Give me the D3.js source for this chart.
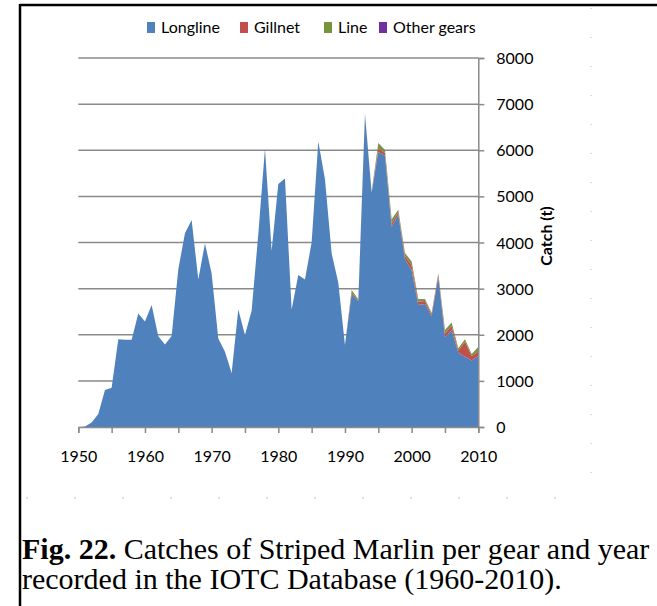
<!DOCTYPE html>
<html>
<head>
<meta charset="utf-8">
<script src="https://cdn.jsdelivr.net/npm/d3@7/dist/d3.min.js"></script>
<style>
  html, body { margin: 0; padding: 0; background: #fff; }
  svg { display: block; }
</style>
</head>
<body>
<svg id="chart" width="657" height="606"></svg>
<script>
// Striped marlin catches (t) by gear, 1950-2010
const years = d3.range(1950, 2011);

const longline = [
  0, 10, 95, 280, 800, 850, 1900, 1890, 1890, 2460,
  2285, 2645, 1965, 1790, 1975, 3420, 4200, 4490, 3200, 3980,
  3330, 1920, 1630, 1170, 2545, 1995, 2520, 4180, 6040, 3820,
  5270, 5390, 2550, 3295, 3200, 4000, 6190, 5370, 3765, 3130,
  1780, 2880, 2730, 6780, 5080, 5960, 5880, 4340, 4600, 3635,
  3400, 2645, 2665, 2405, 3260, 1945, 2100, 1610, 1525, 1440,
  1540
];
const gillnet = [
  0, 0, 0, 0, 0, 0, 0, 0, 0, 0,
  0, 0, 0, 0, 0, 0, 0, 0, 0, 0,
  0, 0, 0, 0, 0, 0, 0, 0, 0, 0,
  0, 0, 0, 0, 0, 0, 0, 0, 0, 0,
  0, 40, 20, 10, 10, 80, 60, 80, 50, 70,
  100, 70, 65, 35, 40, 85, 90, 50, 325, 100,
  95
];
const line = [
  0, 0, 0, 0, 0, 0, 0, 0, 0, 0,
  0, 0, 0, 0, 0, 0, 0, 0, 0, 0,
  0, 0, 0, 0, 0, 0, 0, 0, 0, 0,
  0, 0, 0, 0, 0, 0, 0, 0, 0, 0,
  0, 50, 20, 10, 10, 110, 60, 80, 55, 60,
  85, 55, 40, 25, 30, 70, 70, 45, 50, 40,
  95
];
const otherGears = [
  0, 0, 0, 0, 0, 0, 0, 0, 0, 0,
  0, 0, 0, 0, 0, 0, 0, 0, 0, 0,
  0, 0, 0, 0, 0, 0, 0, 0, 0, 0,
  0, 0, 0, 0, 0, 0, 0, 0, 0, 0,
  0, 0, 0, 0, 0, 5, 5, 5, 5, 5,
  5, 5, 5, 5, 5, 5, 5, 5, 5, 5,
  5
];

const seriesNames = ["Longline", "Gillnet", "Line", "Other gears"];
const seriesColors = ["#4F81BD", "#C0504D", "#77933C", "#7030A0"];
const yTicks = [0, 1000, 2000, 3000, 4000, 5000, 6000, 7000, 8000];
const xMinorTicks = d3.range(1950, 2011, 5);
const xLabels = [1950, 1960, 1970, 1980, 1990, 2000, 2010];
const yTitle = "Catch (t)";
const captionBold = "Fig. 22.";
const captionLine1 = " Catches of Striped Marlin per gear and year";
const captionLine2 = "recorded in the IOTC Database (1960-2010).";

const rows = years.map((yr, i) => ({
  year: yr,
  "Longline": longline[i],
  "Gillnet": gillnet[i],
  "Line": line[i],
  "Other gears": otherGears[i]
}));

const svg = d3.select("#chart");
const font = "Lato, 'Open Sans', sans-serif";

// page frame
svg.append("line").attr("x1", 20).attr("x2", 657).attr("y1", 5).attr("y2", 5)
  .attr("stroke", "#000").attr("stroke-width", 2.5);
svg.append("line").attr("x1", 20).attr("x2", 20).attr("y1", 4).attr("y2", 606)
  .attr("stroke", "#000").attr("stroke-width", 2.5);

// faint dotted guides of the drawing frame
svg.append("line").attr("x1", 591).attr("x2", 591).attr("y1", 8).attr("y2", 498)
  .attr("stroke", "#bbb").attr("stroke-width", 1).attr("stroke-dasharray", "1,28");
svg.append("line").attr("x1", 26).attr("x2", 600).attr("y1", 498).attr("y2", 498)
  .attr("stroke", "#bbb").attr("stroke-width", 1).attr("stroke-dasharray", "2,46");

const x = d3.scaleLinear().domain([1950, 2010]).range([78.3, 478.3]);
const y = d3.scaleLinear().domain([0, 8000]).range([427, 58]);

// horizontal gridlines
svg.append("g").selectAll("line")
  .data(yTicks.filter(d => d > 0))
  .join("line")
  .attr("x1", x(1950)).attr("x2", x(2010))
  .attr("y1", d => y(d)).attr("y2", d => y(d))
  .attr("stroke", "#8a8a8a").attr("stroke-width", 1.5);

// stacked areas
const stack = d3.stack().keys(seriesNames);
const layers = stack(rows);
const area = d3.area()
  .x(d => x(d.data.year))
  .y0(d => y(d[0]))
  .y1(d => y(d[1]));

svg.append("g").selectAll("path")
  .data(layers)
  .join("path")
  .attr("d", area)
  .attr("fill", (d, i) => seriesColors[i]);

// right value axis
const yAxis = d3.axisRight(y).tickValues(yTicks).tickSize(6).tickPadding(12)
  .tickFormat(d3.format("d"));
const gy = svg.append("g").attr("transform", `translate(${x(2010)},0)`).call(yAxis);
gy.select(".domain").attr("stroke", "#8a8a8a").attr("stroke-width", 1.5);
gy.selectAll(".tick line").attr("stroke", "#8a8a8a").attr("stroke-width", 1.5);
gy.selectAll(".tick text")
  .attr("font-family", font).attr("font-size", 16).attr("fill", "#000")
  .attr("dy", "0.35em");

// bottom year axis
const xAxis = d3.axisBottom(x).tickValues(xMinorTicks).tickSize(6)
  .tickFormat(d => xLabels.includes(d) ? String(d) : "").tickPadding(18);
const gx = svg.append("g").attr("transform", `translate(0,${y(0)})`).call(xAxis);
gx.select(".domain").attr("stroke", "#8a8a8a").attr("stroke-width", 1.5);
gx.selectAll(".tick line").attr("stroke", "#8a8a8a").attr("stroke-width", 1.5);
gx.selectAll(".tick text")
  .attr("font-family", font).attr("font-size", 16).attr("fill", "#000");

// axis title
svg.append("text")
  .attr("transform", "translate(552,236) rotate(-90)")
  .attr("text-anchor", "middle")
  .attr("font-family", font).attr("font-size", 16).attr("font-weight", "bold")
  .attr("fill", "#000")
  .text(yTitle);

// legend
const legendX = [147, 240, 324, 379];
const legend = svg.append("g");
seriesNames.forEach((name, i) => {
  legend.append("rect")
    .attr("x", legendX[i]).attr("y", 22).attr("width", 8).attr("height", 11)
    .attr("fill", seriesColors[i]);
  legend.append("text")
    .attr("x", legendX[i] + 14).attr("y", 33)
    .attr("font-family", font).attr("font-size", 16).attr("fill", "#000")
    .text(name);
});

// caption
const cap = svg.append("text")
  .attr("x", 22).attr("y", 559)
  .attr("font-family", "'Liberation Serif', 'Times New Roman', serif")
  .attr("font-size", 30).attr("fill", "#000");
cap.append("tspan").attr("font-weight", "bold").text(captionBold);
cap.append("tspan").text(captionLine1);
svg.append("text")
  .attr("x", 22).attr("y", 589)
  .attr("font-family", "'Liberation Serif', 'Times New Roman', serif")
  .attr("font-size", 30).attr("fill", "#000")
  .text(captionLine2);
</script>
</body>
</html>
